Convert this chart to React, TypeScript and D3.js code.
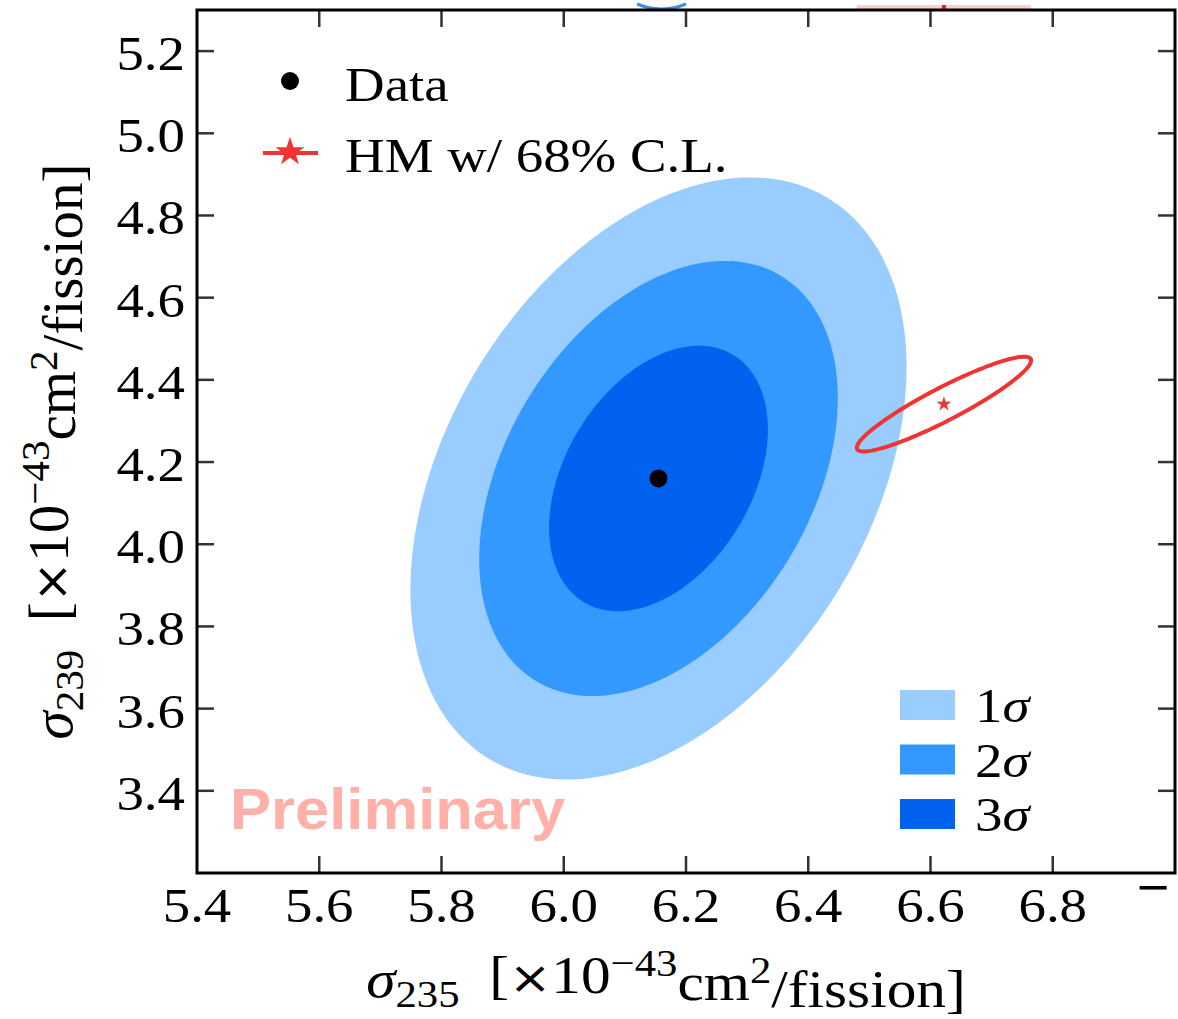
import * as d3 from "d3";
import { ReactNode } from "react";

// axis ranges and ticks
const xDomain = [5.4, 7.0];
const yDomain = [3.2, 5.3];
const xTickValues = [5.4, 5.6, 5.8, 6.0, 6.2, 6.4, 6.6, 6.8];
const yTickValues = [3.4, 3.6, 3.8, 4.0, 4.2, 4.4, 4.6, 4.8, 5.0, 5.2];

// data best fit and its spread
const dataCenter = [6.155, 4.16];
const dataSigma = [0.118, 0.213];
const dataRho = 0.37;

// contour levels (outer to inner), delta chi2 for 2 d.o.f.
const contourLabels = ["1σ", "2σ", "3σ"];
const contourChi2 = [11.83, 6.18, 2.3];
const contourColors = ["#99ccff", "#3399ff", "#0062ee"];

// Huber-Mueller prediction
const hmCenter = [6.622, 4.341];
const hmSigma = [0.094, 0.076];
const hmRho = 0.92;
const hmChi2 = 2.3;

const W = 1178;
const H = 1019;
const margin = { left: 197, right: 3, top: 10, bottom: 146 };

const serif = "'Liberation Serif', 'Times New Roman', serif";
// the source figure is slightly stretched horizontally
const SX = 1.12;

const x = d3.scaleLinear().domain(xDomain).range([margin.left, W - margin.right]);
const y = d3.scaleLinear().domain(yDomain).range([H - margin.bottom, margin.top]);

const ellipsePath = (c: number[], s: number[], rho: number, chi2: number) => {
    const k = Math.sqrt(chi2);
    const pts = d3.range(0, 2 * Math.PI, Math.PI / 90).map((t) => [
        c[0] + k * s[0] * Math.cos(t),
        c[1] + k * s[1] * (rho * Math.cos(t) + Math.sqrt(1 - rho * rho) * Math.sin(t)),
    ]);
    return d3
        .line<number[]>()
        .x((d) => x(d[0]))
        .y((d) => y(d[1]))
        .curve(d3.curveLinearClosed)(pts) ?? "";
};

const fmt = d3.format(".1f");

const Txt = ({
    px,
    py,
    size = 48,
    anchor = "start",
    sx = SX,
    children,
    ...rest
}: {
    px: number;
    py: number;
    size?: number;
    anchor?: string;
    sx?: number;
    children: ReactNode;
    [k: string]: any;
}) => (
    <text
        transform={`translate(${px},${py}) scale(${sx},1)`}
        fontSize={size}
        textAnchor={anchor}
        {...rest}
    >
        {children}
    </text>
);

const AxisTitle = ({ sub }: { sub: string }) => (
    <>
        <tspan fontStyle="italic">σ</tspan>
        <tspan fontSize="0.72em" dy="0.26em">{sub}</tspan>
        <tspan dy="-0.26em" style={{ whiteSpace: "pre" }}>{"  ["}</tspan>
        <tspan fontFamily="'DejaVu Sans', sans-serif" fontSize="0.85em">×</tspan>
        <tspan>10</tspan>
        <tspan fontSize="0.72em" dy="-0.45em">−43</tspan>
        <tspan dy="0.45em">cm</tspan>
        <tspan fontSize="0.72em" dy="-0.45em">2</tspan>
        <tspan dy="0.45em">/fission]</tspan>
    </>
);

export default function App() {
    const x0 = x.range()[0];
    const x1 = x.range()[1];
    const y0 = y.range()[0];
    const y1 = y.range()[1];
    const tickLen = 17;
    const starBig = d3.symbol(d3.symbolStar, 260)() ?? "";
    const starSmall = d3.symbol(d3.symbolStar, 70)() ?? "";
    const hmK = Math.sqrt(hmChi2);

    return (
        <svg
            width={W}
            height={H}
            style={{ position: "absolute", left: 0, top: 0, background: "#fff" }}
            fontFamily={serif}
        >
            <defs>
                <clipPath id="plot">
                    <rect x={x0} y={y1} width={x1 - x0} height={y0 - y1} />
                </clipPath>
            </defs>

            {/* stray bits from the panel above */}
            <rect
                x={x(hmCenter[0] - hmK * hmSigma[0])}
                y={y1 - 5}
                width={x(hmCenter[0] + hmK * hmSigma[0]) - x(hmCenter[0] - hmK * hmSigma[0])}
                height={5}
                fill="#ffd0c8"
            />
            <rect x={x(hmCenter[0]) - 2} y={y1 - 5} width={4} height={5} fill="#ee2222" />
            <path
                d={`M${x(6.12)},${y1 - 6} Q${x(6.16)},${y1 + 4} ${x(6.2)},${y1 - 6}`}
                stroke="#3d8cf0"
                strokeWidth={3}
                fill="none"
            />

            {/* contours */}
            <g clipPath="url(#plot)">
                {contourChi2.map((c, i) => (
                    <path
                        key={i}
                        d={ellipsePath(dataCenter, dataSigma, dataRho, c)}
                        fill={contourColors[i]}
                    />
                ))}
                <path
                    d={ellipsePath(hmCenter, hmSigma, hmRho, hmChi2)}
                    fill="none"
                    stroke="#f03434"
                    strokeWidth={4}
                />
                <path
                    d={starSmall}
                    transform={`translate(${x(hmCenter[0])},${y(hmCenter[1])})`}
                    fill="#f03434"
                />
                <circle cx={x(dataCenter[0])} cy={y(dataCenter[1])} r={9} fill="#000" />
            </g>

            {/* Preliminary */}
            <Txt
                px={230}
                py={y(3.3075)}
                size={57}
                sx={1.08}
                fontFamily="'Liberation Sans', Arial, sans-serif"
                fontWeight="bold"
                fill="#ffb0a8"
            >
                Preliminary
            </Txt>

            {/* legend top-left */}
            <circle cx={290} cy={81} r={9} fill="#000" />
            <Txt px={345} py={101} size={49}>Data</Txt>
            <line x1={263} x2={318} y1={153} y2={153} stroke="#f03434" strokeWidth={4} />
            <path d={starBig} transform="translate(290,152)" fill="#f03434" />
            <Txt px={345} py={172} size={49}>HM w/ 68% C.L.</Txt>

            {/* legend sigma */}
            {contourLabels.map((lab, i) => (
                <g key={lab} transform={`translate(900,${690 + i * 54.5})`}>
                    <rect width={55} height={30} fill={contourColors[i]} />
                    <Txt px={75} py={32} size={49}>
                        {lab[0]}
                        <tspan fontStyle="italic">{lab.slice(1)}</tspan>
                    </Txt>
                </g>
            ))}

            {/* ticks */}
            <g stroke="#333" strokeWidth={2.5}>
                {xTickValues.slice(1).map((t) => (
                    <g key={t}>
                        <line x1={x(t)} x2={x(t)} y1={y0} y2={y0 - tickLen} />
                        <line x1={x(t)} x2={x(t)} y1={y1} y2={y1 + tickLen} />
                    </g>
                ))}
                {yTickValues.map((t) => (
                    <g key={t}>
                        <line x1={x0} x2={x0 + tickLen} y1={y(t)} y2={y(t)} />
                        <line x1={x1} x2={x1 - tickLen} y1={y(t)} y2={y(t)} />
                    </g>
                ))}
            </g>

            {/* frame */}
            <rect
                x={x0}
                y={y1}
                width={x1 - x0}
                height={y0 - y1}
                fill="none"
                stroke="#000"
                strokeWidth={3}
            />

            {/* tick labels */}
            {xTickValues.map((t) => (
                <Txt key={t} px={x(t)} py={y0 + 49} size={49} anchor="middle">
                    {fmt(t)}
                </Txt>
            ))}
            <Txt px={x(7.0) - 22} py={y0 + 32} size={52} anchor="middle" fontWeight="bold">
                −
            </Txt>
            {yTickValues.map((t) => (
                <Txt key={t} px={x0 - 12} py={y(t) + 19} size={49} anchor="end">
                    {fmt(t)}
                </Txt>
            ))}

            {/* axis titles */}
            <Txt px={666} py={997} size={53} anchor="middle">
                <AxisTitle sub="235" />
            </Txt>
            <text
                transform={`translate(72,${(y0 + y1) / 2 + 10}) rotate(-90)`}
                fontSize={57}
                textAnchor="middle"
            >
                <AxisTitle sub="239" />
            </text>
        </svg>
    );
}
